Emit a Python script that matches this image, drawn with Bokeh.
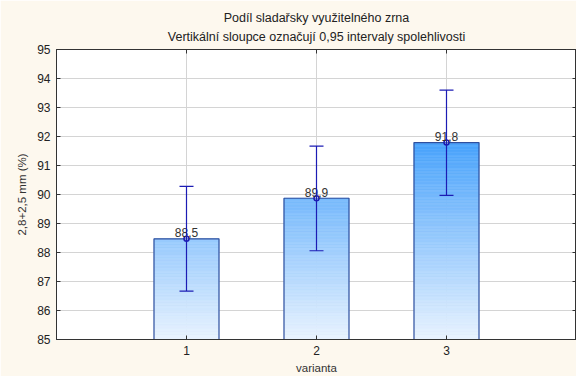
import numpy as np
from bokeh.plotting import figure
from bokeh.models import (ColumnDataSource, Whisker, TeeHead, LinearAxis, FixedTicker,
                          Title, Range1d)
from bokeh.embed import file_html
from bokeh.resources import INLINE

# ---- data ----
varianta = [1, 2, 3]
means = [88.47, 89.87, 91.79]
lower = [86.67, 88.06, 89.97]
upper = [90.28, 91.67, 93.60]
labels = ["88,5", "89,9", "91,8"]
y_ticks = [85, 86, 87, 88, 89, 90, 91, 92, 93, 94, 95]
x_ticks = [1, 2, 3]

title1 = "Podíl sladařsky využitelného zrna"
title2 = "Vertikální sloupce označují 0,95 intervaly spolehlivosti"
y_label = "2,8+2,5 mm (%)"
x_label = "varianta"

FONT = "Liberation Sans"
BG = "#fdf8ee"
base = 85.0
bar_w = 0.5

p = figure(width=576, height=376, output_backend="svg", toolbar_location=None,
           x_range=Range1d(0, 4), y_range=Range1d(85, 95),
           background_fill_color="white", border_fill_color=BG,
           min_border_left=56, min_border_right=0, min_border_top=49, min_border_bottom=37)
p.outline_line_color = "#333333"
p.title = None

# gradient bars built from data values
def blend(c1, c2, t):
    t = min(max(t, 0.0), 1.0)
    a = [int(c1[i:i + 2], 16) for i in (1, 3, 5)]
    b = [int(c2[i:i + 2], 16) for i in (1, 3, 5)]
    return "#%02x%02x%02x" % tuple(int(round(a[k] + (b[k] - a[k]) * t)) for k in range(3))

c_bot, c_top = "#e8f2fe", "#48a2fb"
L, R, B, T, C = [], [], [], [], []
step = 0.05
for x, m in zip(varianta, means):
    edges = np.arange(base, m, step)
    for e in edges:
        L.append(x - bar_w / 2); R.append(x + bar_w / 2)
        B.append(e); T.append(min(e + step, m))
        C.append(blend(c_bot, c_top, (e - base) / (91.8 - base)))
p.quad(left=L, right=R, bottom=B, top=T, fill_color=C, line_color=C, line_width=0.6)

src = ColumnDataSource(dict(x=varianta, mean=means, lower=lower, upper=upper, lab=labels,
                            left=[x - bar_w / 2 for x in varianta],
                            right=[x + bar_w / 2 for x in varianta],
                            bottom=[base] * len(varianta)))
p.quad(left="left", right="right", bottom="bottom", top="mean", source=src,
       fill_color=None, line_color="#2e4f9e", line_width=1.2)

ecol = "#1c1cb4"
w = Whisker(base="x", upper="upper", lower="lower", source=src, line_color=ecol, line_width=1.2,
            upper_head=TeeHead(size=14, line_color=ecol, line_width=1.2),
            lower_head=TeeHead(size=14, line_color=ecol, line_width=1.2),
            level="overlay")
p.add_layout(w)
p.scatter(x="x", y="mean", source=src, size=5, line_color=ecol, fill_color="white",
          fill_alpha=0.3, line_width=1.5, level="overlay")
p.text(x="x", y="mean", text="lab", source=src, text_align="center", text_baseline="middle",
       text_font_size="12px", text_color="#333333", y_offset=-6, text_font={"value": FONT},
       level="overlay")

# grid
p.xgrid.ticker = FixedTicker(ticks=x_ticks)
p.ygrid.ticker = FixedTicker(ticks=y_ticks)
p.grid.grid_line_color = "#d4d4d4"

def style_axis(ax, show_labels=True):
    ax.axis_line_color = "#333333"
    ax.major_tick_in = 4
    ax.major_tick_out = 0
    ax.minor_tick_line_color = None
    ax.major_tick_line_color = "#333333"
    ax.major_label_text_font = FONT
    ax.major_label_text_font_size = "12px"
    ax.major_label_text_color = "#222222"
    ax.axis_label_text_font = FONT
    ax.axis_label_text_font_style = "normal"
    ax.axis_label_text_font_size = "11.5px"
    ax.axis_label_text_color = "#333333"
    if not show_labels:
        ax.major_label_overrides = {t: "" for t in ax.ticker.ticks}
        ax.major_label_standoff = 0

p.xaxis.ticker = FixedTicker(ticks=x_ticks)
p.yaxis.ticker = FixedTicker(ticks=y_ticks)
p.xaxis.axis_label = x_label
p.yaxis.axis_label = y_label
style_axis(p.xaxis[0]); style_axis(p.yaxis[0])
p.xaxis.major_label_standoff = 6
p.yaxis.major_label_standoff = 6
p.xaxis.axis_label_standoff = 4
p.yaxis.axis_label_standoff = 6

ra = LinearAxis(ticker=FixedTicker(ticks=y_ticks))
style_axis(ra, False)
p.add_layout(ra, "right")
ta = LinearAxis(ticker=FixedTicker(ticks=x_ticks))
style_axis(ta, False)
p.add_layout(ta, "above")

t2 = Title(text=title2, align="center", text_font=FONT, text_font_size="12.5px",
           text_font_style="normal", text_color="#222222", offset=0, standoff=12)
t1 = Title(text=title1, align="center", text_font=FONT, text_font_size="12.5px",
           text_font_style="normal", text_color="#222222", offset=0, standoff=-6)
p.add_layout(t2, "above")
p.add_layout(t1, "above")

open("out.html", "w").write(file_html(p, INLINE))
